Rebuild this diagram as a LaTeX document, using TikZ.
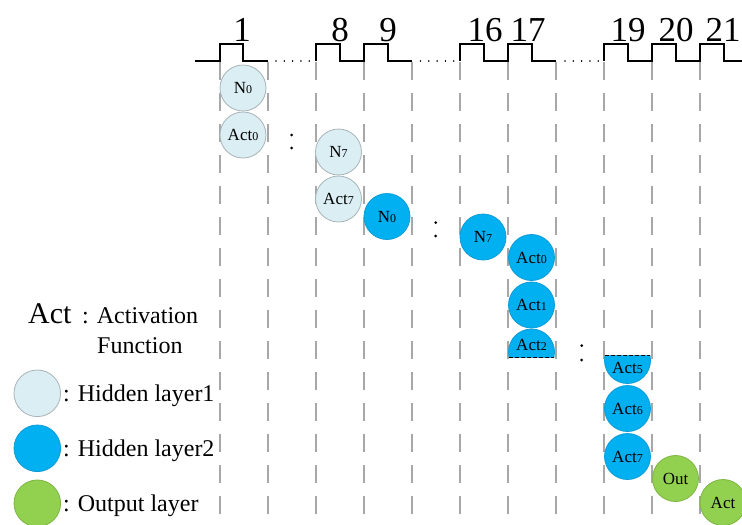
\documentclass[tikz,border=0pt]{standalone}
\usepackage{fontspec}
\setmainfont{Liberation Serif}
\definecolor{hlone}{HTML}{DAEEF3}
\definecolor{hloneborder}{HTML}{A9B4B8}
\definecolor{hltwo}{HTML}{00B0F0}
\definecolor{hltwoborder}{HTML}{0E9CD6}
\definecolor{outfill}{HTML}{92D050}
\definecolor{outborder}{HTML}{7DB543}
\definecolor{gridgrey}{HTML}{A8A8A8}
\newcommand\lsub[1]{{\fontsize{12}{12}\selectfont #1}}
\tikzset{
  neuron/.style={circle, minimum size=46pt, inner sep=0pt, line width=0.8pt,
    font=\fontsize{17}{17}\selectfont},
  layerone/.style={neuron, fill=hlone, draw=hloneborder},
  layertwo/.style={neuron, fill=hltwo, draw=hltwoborder},
  outlayer/.style={neuron, fill=outfill, draw=outborder},
  clockline/.style={line width=1.5pt, line join=miter},
  ellipsis/.style={line width=1.6pt, dash pattern=on 0.01pt off 8.3pt, line cap=round},
  gridline/.style={gridgrey, line width=1.3pt, dash pattern=on 18pt off 13pt},
  cyclenum/.style={anchor=base, font=\fontsize{35}{35}\selectfont, inner sep=0pt},
  legendtxt/.style={anchor=base west, inner sep=0pt, font=\fontsize{24}{24}\selectfont},
  cutline/.style={line width=1pt, dash pattern=on 4pt off 2pt},
  dot/.style={circle, fill=black, inner sep=0pt, minimum size=3pt}
}
\begin{document}
\begin{tikzpicture}[x=1pt, y=-1pt]
\useasboundingbox (0,0) rectangle (742,525);

% dashed cycle boundaries
\foreach \k in {0,...,10}{
  \coordinate (gt\k) at (220+48*\k, 62);
  \coordinate (gb\k) at (220+48*\k, 525);
  \draw[gridline] (gt\k) -- (gb\k);
}

% clock waveform
\draw[clockline] (195,61) -- (220,61) -- (220,44) -- (243,44) -- (243,61) -- (268,61);
\draw[clockline] (316,61) -- (316,44) -- (340,44) -- (340,61) -- (364,61) -- (364,44)
  -- (388,44) -- (388,61) -- (412,61);
\draw[clockline] (460,61) -- (460,44) -- (484,44) -- (484,61) -- (508,61) -- (508,44)
  -- (532,44) -- (532,61) -- (556,61);
\draw[clockline] (604,61) -- (604,44) -- (628,44) -- (628,61) -- (652,61) -- (652,44)
  -- (676,44) -- (676,61) -- (700,61) -- (700,44) -- (724,44) -- (724,61) -- (742,61);
\coordinate (ea1) at (276,61); \coordinate (eb1) at (312,61);
\coordinate (ea2) at (420.5,61); \coordinate (eb2) at (457,61);
\coordinate (ea3) at (565,61); \coordinate (eb3) at (602,61);
\draw[ellipsis] (ea1) -- (eb1);
\draw[ellipsis] (ea2) -- (eb2);
\draw[ellipsis] (ea3) -- (eb3);

% cycle numbers
\node[cyclenum] (c1) at (242,41) {1};
\node[cyclenum] (c8) at (340,41) {8};
\node[cyclenum] (c9) at (388,41) {9};
\node[cyclenum] (c16) at (485,41) {16};
\node[cyclenum] (c17) at (528,41) {17};
\node[cyclenum] (c19) at (628,41) {19};
\node[cyclenum] (c20) at (676,41) {20};
\node[cyclenum] (c21) at (723,41) {21};

% hidden layer 1
\node[layerone] (a0) at (243,88) {N\lsub{0}};
\node[layerone] (b0) at (243,135) {Act\lsub{0}};
\node[layerone] (a7) at (338.5,152) {N\lsub{7}};
\node[layerone] (b7) at (338.5,199) {Act\lsub{7}};

% hidden layer 2
\node[layertwo] (m0) at (387,216.5) {N\lsub{0}};
\node[layertwo] (m7) at (483,237) {N\lsub{7}};
\node[layertwo] (p0) at (531.5,257.5) {Act\lsub{0}};
\node[layertwo] (p1) at (531.5,305) {Act\lsub{1}};
\begin{scope}
  \clip (500,320) rectangle (565,357);
  \node[layertwo] (p2) at (531.5,352) {};
\end{scope}
\node[font=\fontsize{17}{17}\selectfont, inner sep=0pt] (p2t) at (531.5,345) {Act\lsub{2}};
\coordinate (p2l) at (509,357); \coordinate (p2r) at (554,357);
\draw[cutline] (p2l) -- (p2r);
\begin{scope}
  \clip (595,355) rectangle (660,395);
  \node[layertwo] (p5) at (627.5,360.5) {};
\end{scope}
\node[font=\fontsize{17}{17}\selectfont, inner sep=0pt] (p5t) at (627.5,368) {Act\lsub{5}};
\coordinate (p5l) at (605,355); \coordinate (p5r) at (650,355);
\draw[cutline] (p5l) -- (p5r);
\node[layertwo] (p6) at (627.5,408.5) {Act\lsub{6}};
\node[layertwo] (p7) at (627.5,456.5) {Act\lsub{7}};

% output layer
\node[outlayer] (o) at (675.5,478.5) {Out};
\node[outlayer] (oa) at (723,502.5) {Act};

% vertical ellipses
\node[dot] (d1a) at (291.7,135) {}; \node[dot] (d1b) at (291.7,148) {};
\node[dot] (d2a) at (435.7,222.7) {}; \node[dot] (d2b) at (435.7,236) {};
\node[dot] (d3a) at (581.7,345.7) {}; \node[dot] (d3b) at (581.7,360) {};

% legend
\node[anchor=base west, inner sep=0pt, font=\fontsize{30}{30}\selectfont] (lact) at (28,323) {Act};
\node[legendtxt] (lacttxt) at (82,323) {: Activation};
\node[legendtxt] (lfun) at (97,353) {Function};
\node[layerone, minimum size=46.6pt] (lc1) at (37.3,393.3) {};
\node[layertwo, minimum size=46.6pt] (lc2) at (37.3,448.3) {};
\node[outlayer, minimum size=46.6pt] (lc3) at (37.3,503.3) {};
\node[legendtxt] (lt1) at (63,401.7) {: Hidden layer1};
\node[legendtxt] (lt2) at (63,456.7) {: Hidden layer2};
\node[legendtxt] (lt3) at (63,511.7) {: Output layer};
\end{tikzpicture}
\end{document}
